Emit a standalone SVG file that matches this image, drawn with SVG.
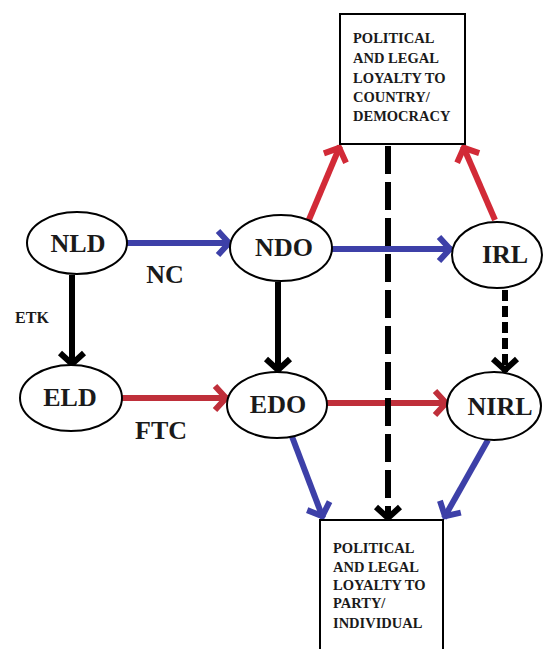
<svg xmlns="http://www.w3.org/2000/svg" width="545" height="649" viewBox="0 0 545 649">
<style>
.node ellipse{fill:#fff;stroke:#000;stroke-width:2}
.box rect{fill:#fff;stroke:#000;stroke-width:2}
.blue{stroke:#3d40a8;stroke-width:6;fill:none}
.red{stroke:#d22a37;stroke-width:6;fill:none}
.dred{stroke:#bf2f3a;stroke-width:6;fill:none}
.blk{stroke:#000;stroke-width:6;fill:none}
</style>
<defs>
<marker id="mb" markerUnits="userSpaceOnUse" markerWidth="30" markerHeight="30" orient="auto" overflow="visible"><path d="M-13,-12 L-2,0 L-13,12" fill="none" stroke="#3d40a8" stroke-width="6"/></marker>
<marker id="mr" markerUnits="userSpaceOnUse" markerWidth="30" markerHeight="30" orient="auto" overflow="visible"><path d="M-13,-12 L-2,0 L-13,12" fill="none" stroke="#d22a37" stroke-width="6"/></marker>
<marker id="mdr" markerUnits="userSpaceOnUse" markerWidth="30" markerHeight="30" orient="auto" overflow="visible"><path d="M-13,-12 L-2,0 L-13,12" fill="none" stroke="#bf2f3a" stroke-width="6"/></marker>
<marker id="mk" markerUnits="userSpaceOnUse" markerWidth="30" markerHeight="30" orient="auto" overflow="visible"><path d="M-13,-12 L-2,0 L-13,12" fill="none" stroke="#000" stroke-width="6"/></marker>
</defs>
<rect width="545" height="649" fill="#fff"/>
<g id="connectors">
<line class="blue" x1="127" y1="243" x2="231" y2="243" marker-end="url(#mb)"/>
<line class="blue" x1="332" y1="249" x2="452" y2="249" marker-end="url(#mb)"/>
<line class="dred" x1="122" y1="398" x2="228" y2="398" marker-end="url(#mdr)"/>
<line class="dred" x1="326" y1="403" x2="448" y2="403" marker-end="url(#mdr)"/>
<line class="blk" x1="72" y1="275" x2="72" y2="366" marker-end="url(#mk)"/>
<line class="blk" x1="278" y1="282" x2="278" y2="372" marker-end="url(#mk)"/>
<line class="blk" x1="505" y1="290" x2="505" y2="372" stroke-dasharray="11,5" marker-end="url(#mk)"/>
<line class="blk" x1="388" y1="146" x2="388" y2="520" stroke-dasharray="28,8" marker-end="url(#mk)"/>
<line class="red" x1="308" y1="222" x2="340" y2="146" marker-end="url(#mr)"/>
<line class="red" x1="495" y1="220" x2="463" y2="146" marker-end="url(#mr)"/>
<line class="blue" x1="291" y1="434" x2="323" y2="518" marker-end="url(#mb)"/>
<line class="blue" x1="488" y1="440" x2="444" y2="518" marker-end="url(#mb)"/>
<g font-family="Liberation Serif, serif" font-weight="bold" fill="#1a1a1a" text-anchor="middle">
<text x="165" y="283" font-size="26">NC</text>
<text x="32" y="323" font-size="16">ETK</text>
<text x="161" y="439" font-size="26">FTC</text>
</g>
</g>
<g id="box-country" class="box" font-family="Liberation Serif, serif" font-weight="bold" font-size="14.5" fill="#1a1a1a">
<rect x="340" y="14" width="125" height="130"/>
<text x="353" y="43">POLITICAL</text>
<text x="353" y="63">AND LEGAL</text>
<text x="353" y="83">LOYALTY TO</text>
<text x="353" y="102">COUNTRY/</text>
<text x="353" y="121">DEMOCRACY</text>
</g>
<g id="box-party" class="box" font-family="Liberation Serif, serif" font-weight="bold" font-size="14.5" fill="#1a1a1a">
<rect x="320" y="520" width="123" height="140"/>
<text x="333" y="553">POLITICAL</text>
<text x="333" y="572">AND LEGAL</text>
<text x="333" y="590">LOYALTY TO</text>
<text x="333" y="608">PARTY/</text>
<text x="333" y="628">INDIVIDUAL</text>
</g>
<g font-family="Liberation Serif, serif" font-weight="bold" font-size="26" text-anchor="middle" fill="#1a1a1a">
<g id="NLD" class="node"><ellipse cx="77" cy="243" rx="50" ry="31"/><text x="78" y="252">NLD</text></g>
<g id="NDO" class="node"><ellipse cx="281" cy="248" rx="51" ry="33"/><text x="284" y="256">NDO</text></g>
<g id="ELD" class="node"><ellipse cx="71" cy="398" rx="51" ry="33"/><text x="70" y="406">ELD</text></g>
<g id="EDO" class="node"><ellipse cx="277" cy="405" rx="50" ry="33"/><text x="278" y="413">EDO</text></g>
<g id="IRL" class="node"><ellipse cx="497" cy="255" rx="45" ry="33"/><text x="505" y="263">IRL</text></g>
<g id="NIRL" class="node"><ellipse cx="494" cy="406" rx="47" ry="34"/><text x="500" y="415">NIRL</text></g>
</g>
</svg>
